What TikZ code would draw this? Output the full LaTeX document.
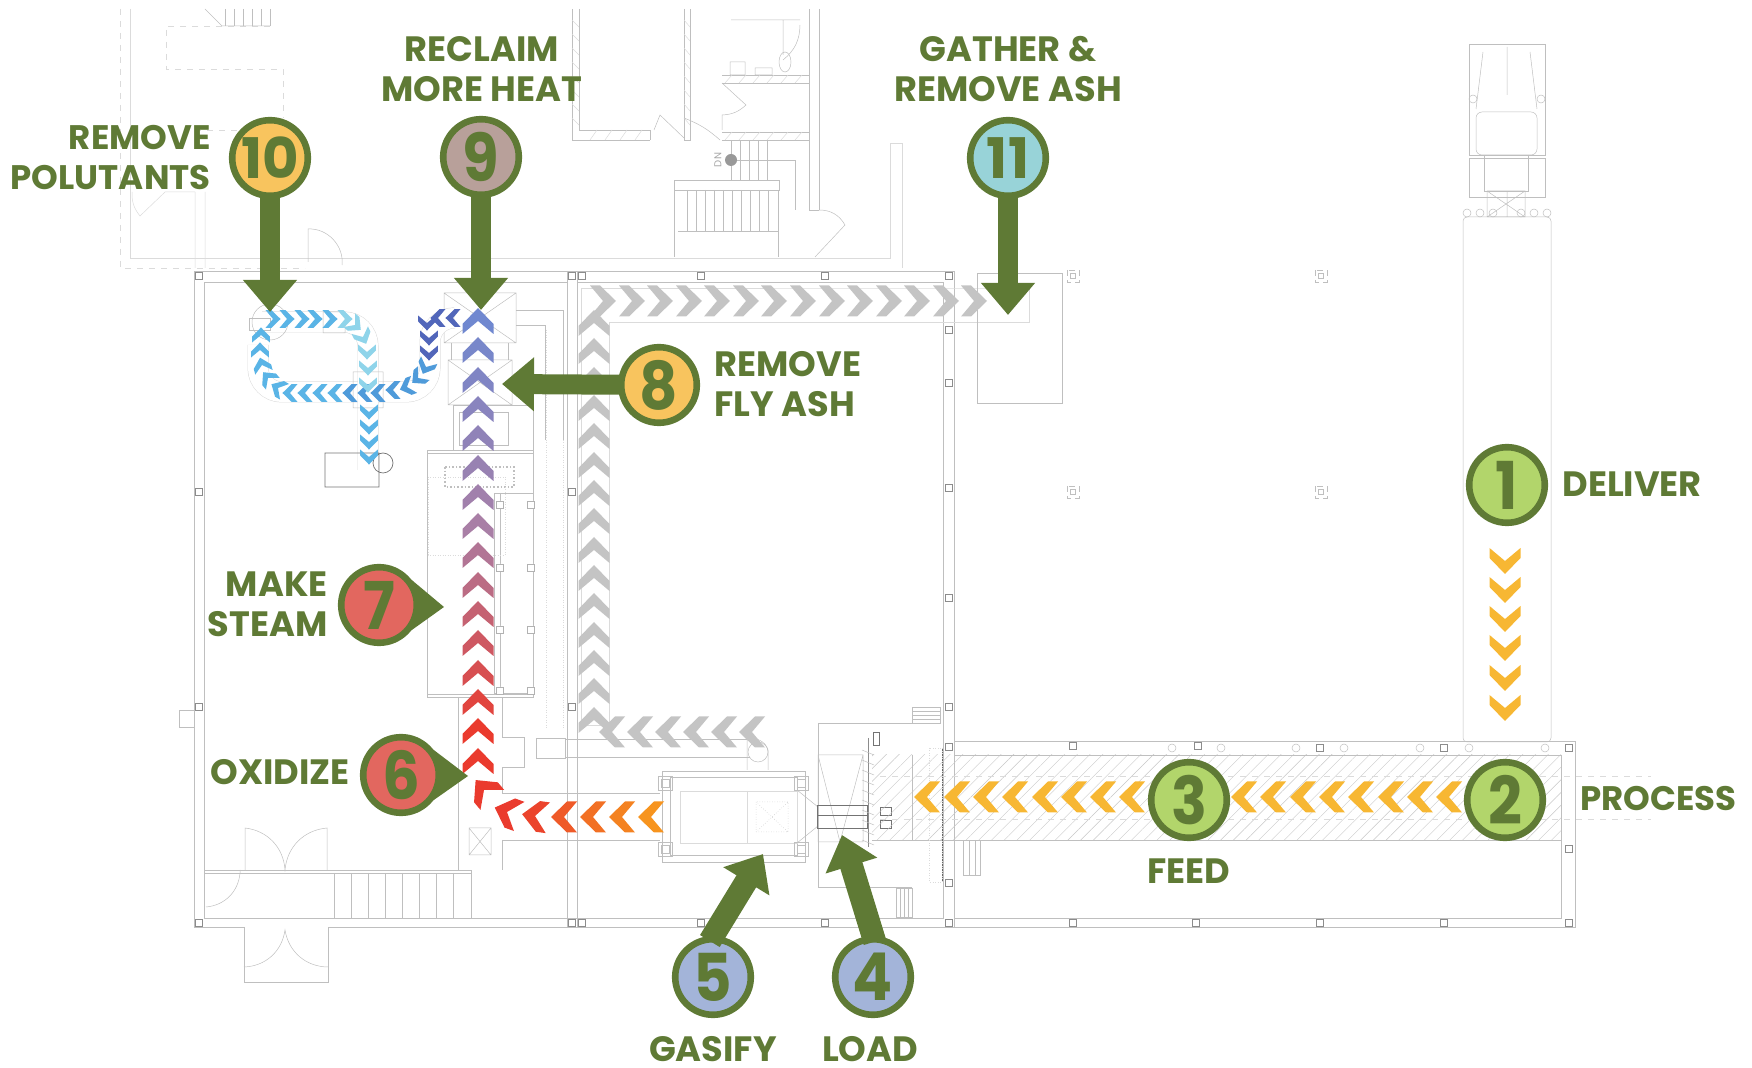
\documentclass[tikz,border=0pt]{standalone}
\usepackage{fontspec}
\setmainfont{Poppins}
\usetikzlibrary{arrows.meta,patterns.meta}
\definecolor{ringgreen}{HTML}{5F7A35}
\definecolor{fillgreen}{HTML}{B2D56B}
\definecolor{fillblue}{HTML}{A3B4D9}
\definecolor{fillred}{HTML}{E2675F}
\definecolor{fillgold}{HTML}{F8C45E}
\definecolor{fillmauve}{HTML}{B8A09A}
\definecolor{fillteal}{HTML}{98D3D8}
\definecolor{chyellow}{HTML}{F7B733}
\definecolor{chorange}{HTML}{F7941E}
\definecolor{chred}{HTML}{EA3B2E}
\definecolor{chblue}{HTML}{7088D0}
\definecolor{chmauve}{HTML}{A97FA6}
\definecolor{chgray}{HTML}{C4C4C4}
\definecolor{lbdark}{HTML}{5166BA}
\definecolor{lbmid}{HTML}{4F9BDA}
\definecolor{lbsky}{HTML}{5AB4E6}
\definecolor{lbpale}{HTML}{8FD4EA}
\newcommand{\bigdigit}[1]{{\fontsize{33pt}{33pt}\selectfont\scalebox{.9}[1]{#1}}}
\tikzset{
  chev/.pic={\fill[pic actions] (13,0) -- (-3,-15.5) -- (-13,-15.5) -- (0,0) -- (-13,15.5) -- (-3,15.5) -- cycle;},
  plan/.style={line width=.25pt, draw=black!25},
  planlt/.style={line width=.25pt, draw=black!14},
  plandash/.style={planlt, dashed},
  post/.style={line width=.35pt, draw=black!45, fill=white},
  duct/.style={planlt, double=white, double distance=10pt, rounded corners=12pt},
  num/.style={circle, draw=ringgreen, line width=3.3pt, minimum size=37.8pt, inner sep=0pt,
    text=ringgreen, font=\fontsize{28pt}{28pt}\selectfont\bfseries},
  lbl/.style={text=ringgreen, inner sep=0pt, font=\fontsize{17.6pt}{20pt}\selectfont\bfseries},
  bigarrow/.style={draw=ringgreen, line width=10pt, shorten <=-3pt, -{Triangle[length=16pt,width=26pt]}}
}
\begin{document}
\begin{tikzpicture}[x=.5pt, y=-.5pt]
\useasboundingbox (0,0) rectangle (1752,1068);
% floor plan, upper storey
\draw[planlt] (130,9) -- (130,258) -- (890,258) -- (890,143) -- (902,143) -- (902,268);
\draw[plandash] (120,9) -- (120,268) -- (305,268);
\draw[plandash] (270,26) -- (166,26) -- (166,69) -- (283,69) -- (283,118);
\draw[plandash] (195,130) -- (238,130);
\draw[planlt] (195,192) -- (195,268) (205,192) -- (205,268) (132,192) to[bend right=20] (140,216) -- (165,192) -- (195,192);
\draw[plan] (205,9) -- (222,26) -- (270,26);
\foreach \x in {225,234,...,270} {\draw[plan] (\x,9) -- (\x,26);}
\draw[plan] (308,262) -- (308,229) to[bend left=50] (342,265);
\draw[plan] (572,9) -- (572,140) -- (650,140) (579,9) -- (579,130) -- (650,130) -- (650,140);
\draw[plan] (684,9) -- (684,140) -- (690,140) -- (690,9) (722,132) -- (809,132) (722,140) -- (809,140);
\draw[plan] (722,75) -- (809,75) (722,83) -- (809,83) (819,9) -- (819,210) (809,9) -- (809,210) -- (819,210);
\foreach \y in {20,34,...,130} {\draw[planlt] (572,\y) -- (579,\y+7) (684,\y) -- (690,\y+7);}
\foreach \x in {590,605,...,640} {\draw[planlt] (\x,140) -- (\x+7,130);}
\foreach \x in {725,739,...,800} {\draw[planlt] (\x,140) -- (\x+7,132) (\x,83) -- (\x+7,75);}
\draw[plan] (819,210) to[bend left=30] (845,225) -- (815,257);
\draw[plan] (720,140) to[bend right=10] (684,118) (654,130) -- (660,115) -- (684,138) (722,83) -- (746,105) to[bend left=20] (722,115) -- (722,130);
\draw[plan] (731,20) -- (800,20) (783,20) -- (783,55) (800,25) to[bend left=25] (783,60);
\draw[plan] (785,62) ellipse (6 and 10) (730,62) rectangle (745,75) (755,68) rectangle (772,75);
\draw[plan] (674,180) rectangle (779,190) (674,190) -- (674,257) (778,190) -- (778,257) (678,231) -- (778,231);
\foreach \x in {687,696,...,770} {\draw[plan] (\x,190) -- (\x,231);}
\foreach \x in {731,740,...,770} {\draw[plan] (\x,140) -- (\x,180);}
\draw[plan] (731,160) -- (795,160) -- (795,210);
\fill[black!40] (731,160) circle (6);
\node[text=black!35, font=\fontsize{5pt}{5pt}\selectfont, rotate=90, inner sep=0pt] (dnmark) at (718,160) {DN};
% floor plan, walls
\draw[plan] (194,271) -- (954,271) -- (954,927) -- (328,927) (244,927) -- (194,927) -- (194,271);
\draw[plan] (204,282) -- (567,282) (577,282) -- (943,282) -- (943,918) -- (204,918) -- (204,282);
\draw[plan] (567,271) -- (567,927) (577,271) -- (577,927);
\draw[plan] (179,710) rectangle (194,727);
\draw[plan] (204,870) -- (471,870) -- (471,918) (204,873) -- (471,873);
\foreach \x in {334,351,...,468} {\draw[plan] (\x,873) -- (\x,918);}
\draw[plan] (245,870) -- (245,828) to[bend left=40] (285,870) to[bend left=40] (327,828) -- (327,870);
\draw[plan] (244,927) -- (244,982) -- (328,982) -- (328,927);
\draw[plan] (244,967) to[bend right=40] (285,930) to[bend right=40] (328,967);
\draw[plan] (206,907) to[bend right=40] (240,873) -- (240,870);
% boiler and gasifier
\draw[plan] (427,450) rectangle (533,697) (427,453) -- (533,453) (427,694) -- (533,694);
\draw[plan] (494,493) rectangle (533,693) (500,493) -- (500,693);
\draw[plan, line width=.8pt, densely dotted] (445,467) rectangle (514,487);
\draw[planlt, densely dotted] (428,477) rectangle (505,555);
\foreach \y in {504,567,629,690} {\draw[post, draw=black!30] (496,\y-3) rectangle +(7,7) (527,\y-3) rectangle +(7,7);}
\draw[plan] (444,293) rectangle (516,343) (444,293) -- (516,343) (444,343) -- (516,293);
\draw[plan] (448,360) rectangle (512,405) (448,360) -- (512,405) (448,405) -- (512,360);
\draw[plan] (453,405) rectangle (533,450) (459,412) rectangle (508,445);
\draw[plan] (451,343) -- (451,360) (508,343) -- (508,360);
\draw[plan] (516,310) -- (563,310) -- (563,440) (516,325) -- (545,325) -- (545,440);
\draw[planlt, densely dotted] (546,330) -- (546,730) (563,440) -- (563,730);
\draw[plan] (458,697) -- (458,870) (502,697) -- (502,737) -- (524,737) -- (524,767) -- (502,767) -- (502,793) -- (660,793) (502,840) -- (660,840) (502,840) -- (502,870);
\draw[plan] (469,828) rectangle (491,855) (469,828) -- (491,855) (469,855) -- (491,828);
\draw[plan] (536,738) rectangle (565,758) (565,739) -- (750,739) (565,757) -- (750,757);
\draw[planlt] (581,288) -- (954,288) -- (1029,288) -- (1029,322) -- (609,322) (581,288) -- (581,725) -- (609,725) -- (609,322);
\draw[plan] (747,740) -- (747,770) (768,770) -- (768,750) to[bend right=50] (747,740);
\draw[plan] (758,752) circle (10);
\draw[plan] (662,771) rectangle (805,862) (670,777) rectangle (797,855);
\draw[planlt] (680,791) rectangle (797,843) (747,791) -- (747,843);
\draw[plan, densely dotted] (756,802) rectangle (788,832) (756,802) -- (788,832) (756,832) -- (788,802);
\foreach \x/\y in {665/783,801/783,665/849,801/849} {\draw[plan] (\x-7,\y-7) rectangle +(14,14) (\x-4,\y-4) rectangle +(8,8);}
\draw[plan] (797,790) -- (818,807) (797,843) -- (818,826);
\draw[plan] (818,755) -- (863,755) -- (863,842) -- (818,842) -- cycle (818,755) -- (840,842) (863,755) -- (840,842);
\draw[plan] (818,723) -- (912,723) (818,723) -- (818,887) -- (912,887) (912,707) rectangle (940,723);
\foreach \y in {711,715,719} {\draw[plan] (912,\y) -- (940,\y);}
\foreach \x in {900,904,908} {\draw[plan] (\x,888) -- (\x,917);}
\draw[plan] (896,888) rectangle (912,917);
\draw[black!55, line width=.4pt] (817,805) rectangle (867,828) (817,815) -- (867,815);
\draw[black!45, line width=.4pt] (868,738) -- (868,847);
\foreach \y in {750,760,...,840} {\draw[plan] (862,\y) -- (874,\y+5);}
\draw[black!55, line width=.4pt] (873,732) rectangle (879,745);
\draw[black!55, line width=.4pt] (880,807) rectangle (891,815) (880,820) rectangle (891,828);
% hatched hall and truck
\fill[pattern={Lines[angle=45,distance=4.5pt,line width=.2pt]}, pattern color=black!22] (872,755) rectangle (1561,840);
\draw[plan] (954,741) -- (1575,741) -- (1575,927) -- (954,927) (954,755) -- (1561,755) -- (1561,918) -- (954,918);
\draw[plan] (872,840) -- (1561,840) (912,755) -- (912,840);
\foreach \y in {776,819} {\draw[plandash] (880,\y) -- (1651,\y);}
\draw[plan] (963,840) rectangle (980,875) (969,840) -- (969,875) (975,840) -- (975,875);
\draw[black!60, line width=.5pt] (942,748) -- (942,882);
\draw[planlt, densely dotted] (929,748) rectangle (942,882);
\draw[plan, rounded corners=2pt] (1463,217) rectangle (1551,742);
\draw[plan] (1469,44) rectangle (1545,155) (1484,155) rectangle (1528,191) (1469,158) rectangle (1545,197);
\draw[plan] (1507,47) -- (1507,95) (1483,52) -- (1476,109) (1530,52) -- (1537,109);
\draw[plan, rounded corners=3pt] (1476,112) rectangle (1537,155);
\draw[plan] (1473,99) circle (4) (1541,99) circle (4);
\draw[plan] (1487,191) rectangle (1525,217) (1487,191) -- (1525,217) (1487,217) -- (1525,191) (1507,191) -- (1507,217);
\foreach \x in {1467,1480,1493,1521,1534,1547} {\draw[plan] (\x,213) circle (4);}
\draw[plan] (977,273) rectangle (1062,403);
% ducts
\draw[duct] (258,345) -- (258,392) -- (430,392) -- (430,318) -- (452,318);
\draw[duct] (262,322) -- (368,322) -- (368,470);
\draw[plan] (353,372) rectangle (383,408) (323,312) rectangle (345,333) (270,322) circle (18);
\draw[plan] (249,318) rectangle (270,330);
\draw[black!55, line width=.35pt] (325,453) rectangle (379,487) (383,463) circle (10);
% column posts
\foreach \x/\y in {199/276,199/492,199/707,199/923,572/276,582/276,701/276,825/276,949/276,949/330,949/383,949/488,949/598,949/707,949/747,949/883,949/923,572/492,572/707,572/923,582/923,701/923,825/923,1073/746,1198/746,1320/748,1444/748,1569/748,1196/923,1320/923,1444/923,1569/923,1073/923,1569/849} {\draw[post] (\x-3.5,\y-3.5) rectangle +(7,7);}
\foreach \x in {1172,1221,1296,1344,1420,1469,1545} {\draw[plan] (\x,748) circle (4);}
\foreach \x/\y in {1073/276,1321/276,1073/492,1321/492} {\draw[plan, densely dashed] (\x-6,\y-6) rectangle +(12,12); \draw[plan] (\x-2.5,\y-2.5) rectangle +(5,5);}
% chevrons, truck and feed line
\foreach \y in {561,590,619,648,678,708} {\pic[fill=chyellow, rotate=-90] at (1505,\y) {chev};}
\foreach \x in {1449,1420,1391,1361,1332,1303,1273,1244,1132,1103,1074,1045,1015,986,957,927} {\pic[fill=chyellow, rotate=180] at (\x,797) {chev};}
% chevrons, ash line
\foreach \x in {603,632,660,689,717,746,774,803,832,860,889,917,946,974} {\pic[fill=chgray] at (\x,301) {chev};}
\foreach \y in {323,351,380,408,436,465,493,521,550,578,606,635,663,691,720} {\pic[fill=chgray, rotate=90] at (594,\y) {chev};}
\foreach \x in {612,640,668,696,724,752} {\pic[fill=chgray, rotate=180] at (\x,732) {chev};}
% chevrons, hot gas line
\foreach \yy/\c in {321/chblue,350/chmauve!14!chblue,380/chmauve!28!chblue,409/chmauve!43!chblue,438/chmauve!57!chblue,468/chmauve!71!chblue,497/chmauve!86!chblue,526/chmauve,555/chred!14!chmauve,585/chred!28!chmauve,614/chred!43!chmauve,643/chred!57!chmauve,673/chred!71!chmauve,702/chred!86!chmauve,731/chred,761/chred} {\pic[fill=\c, rotate=90] at (478,\yy) {chev};}
\foreach \x/\y/\r/\p in {651/817/180/100,622/817/180/80,593/817/180/60,564/817/180/35,535/816/172/10,507/812/160/0,484/790/130/0} {\pic[fill=chorange!\p!chred, rotate=\r] at (\x,\y) {chev};}
% chevrons, small ducts
\foreach \x/\y/\r/\c in {453/318/180/lbdark,438/318/180/lbdark,427/323/-90/lbdark,429/338/-90/lbdark,429/353/-90/lbdark,426/367/-115/lbmid,418/378/-140/lbmid,407/387/-160/lbmid,393/390/180/lbmid,378/393/180/lbmid,365/393/180/lbmid,350/393/180/lbmid,335/393/180/lbsky,320/393/180/lbsky,305/393/180/lbsky,290/393/180/lbsky,278/388/150/lbsky,268/378/130/lbsky,262/365/105/lbsky,260/350/90/lbsky,261/335/90/lbsky,273/319/0/lbsky,287/319/0/lbsky,302/319/0/lbsky,315/319/0/lbsky,330/319/0/lbsky,345/319/0/lbpale,355/325/-40/lbpale,363/337/-65/lbpale,367/352/-90/lbpale,368/368/-90/lbpale,368/385/-90/lbpale,369/412/-90/lbsky,369/427/-90/lbsky,369/442/-90/lbsky,369/457/-90/lbsky} {\pic[fill=\c, rotate=\r, scale=.58] at (\x,\y) {chev};}
% numbered stops
\node[num, fill=fillgreen] (deliver) at (1507,485) {\bigdigit{1}};
\node[num, fill=fillgreen] (process) at (1505,800) {\bigdigit{2}};
\node[num, fill=fillgreen] (feed) at (1189,800) {\bigdigit{3}};
\node[num, fill=fillblue] (load) at (873,977) {\bigdigit{4}};
\node[num, fill=fillblue] (gasify) at (713,977) {\bigdigit{5}};
\node[num, fill=fillred] (oxidize) at (401,775) {\bigdigit{6}};
\node[num, fill=fillred] (steam) at (379,605) {\bigdigit{7}};
\node[num, fill=fillgold] (flyash) at (659,385) {\bigdigit{8}};
\node[num, fill=fillmauve] (reclaim) at (481,157) {\bigdigit{9}};
\node[num, fill=fillgold] (pollutants) at (270,158) {10};
\node[num, fill=fillteal] (ashbin) at (1008,158) {11};
% pointers
\coordinate (loadtip) at (842,835);
\coordinate (gasifytip) at (763,854);
\coordinate (flyashtip) at (502,384);
\coordinate (reclaimtip) at (481,310);
\coordinate (pollutantstip) at (270,312);
\coordinate (ashbintip) at (1008,315);
\coordinate (oxidizetip) at (468,776);
\coordinate (steamtip) at (444,607);
\draw[bigarrow, line width=11.5pt] (load.north) -- (loadtip);
\draw[bigarrow, line width=11.5pt] (gasify.north) -- (gasifytip);
\draw[bigarrow] (flyash) -- (flyashtip);
\draw[bigarrow] (reclaim) -- (reclaimtip);
\draw[bigarrow] (pollutants) -- (pollutantstip);
\draw[bigarrow] (ashbin) -- (ashbintip);
\fill[ringgreen] (oxidize.38) -- (oxidizetip) -- (oxidize.-38) -- (oxidize.east) -- cycle;
\fill[ringgreen] (steam.38) -- (steamtip) -- (steam.-38) -- (steam.east) -- cycle;
% labels
\node[lbl, anchor=west] (deliverlbl) at (1562,484) {DELIVER};
\node[lbl, anchor=west, font=\fontsize{17pt}{20pt}\selectfont\bfseries] (processlbl) at (1580,799) {PROCESS};
\node[lbl] (feedlbl) at (1189,871) {FEED};
\node[lbl] (loadlbl) at (870,1049) {LOAD};
\node[lbl] (gasifylbl) at (713,1049) {GASIFY};
\node[lbl, anchor=east] (oxidizelbl) at (350,772) {OXIDIZE};
\node[lbl, anchor=east, align=right] (steamlbl) at (328,604) {MAKE\\STEAM};
\node[lbl, anchor=west, align=left] (flyashlbl) at (714,384) {REMOVE\\FLY ASH};
\node[lbl, align=center] (reclaimlbl) at (482,69) {RECLAIM\\MORE HEAT};
\node[lbl, anchor=east, align=right, font=\fontsize{17pt}{20pt}\selectfont\bfseries] (pollutantslbl) at (211,158) {REMOVE\\POLUTANTS};
\node[lbl, align=center] (ashbinlbl) at (1008,69) {GATHER \&\\REMOVE ASH};
\end{tikzpicture}
\end{document}
